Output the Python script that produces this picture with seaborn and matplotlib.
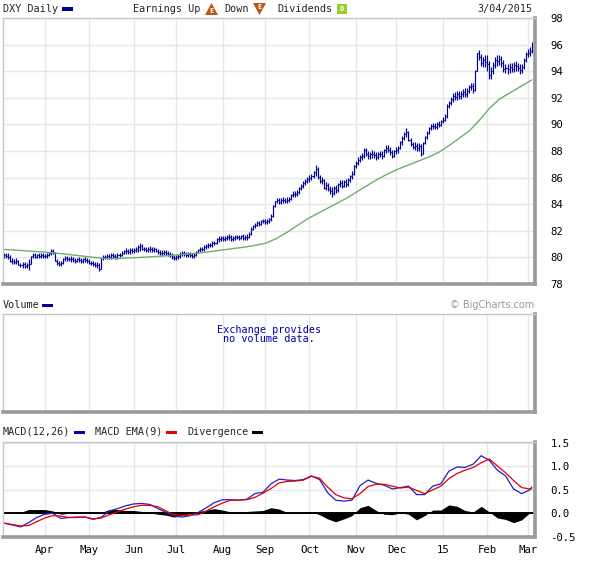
import matplotlib
matplotlib.use("Agg")
import matplotlib.pyplot as plt
import seaborn as sns
import pandas as pd
import numpy as np
from matplotlib.patches import Rectangle, Polygon

# --- DXY daily closes, one list per month ---
close_2014_03 = [80.15, 80.10, 80.05, 79.75, 79.70, 79.65, 79.75, 79.45, 79.40, 79.50,
                 79.35, 79.45, 79.50, 80.10, 80.20, 80.05, 80.15, 80.10, 80.20, 80.10]
close_2014_04 = [80.10, 80.20, 80.30, 80.50, 80.35, 79.75, 79.60, 79.50, 79.55, 79.85, 79.95,
                 79.90, 79.85, 79.90, 79.80, 79.75, 79.85, 79.80, 79.70, 79.85, 79.80, 79.75]
close_2014_05 = [79.60, 79.55, 79.50, 79.45, 79.40, 79.15, 79.95, 80.05, 80.00, 80.10, 80.05,
                 80.15, 80.10, 80.05, 80.15, 80.20, 80.35, 80.45, 80.50, 80.40, 80.55, 80.45]
close_2014_06 = [80.55, 80.60, 80.75, 80.85, 80.65, 80.60, 80.55, 80.65, 80.60, 80.55, 80.60,
                 80.50, 80.40, 80.35, 80.30, 80.40, 80.35, 80.25, 80.20, 80.05, 79.95]
close_2014_07 = [80.05, 80.10, 80.25, 80.30, 80.25, 80.20, 80.25, 80.15, 80.10, 80.20, 80.40, 80.55,
                 80.60, 80.65, 80.75, 80.85, 80.90, 80.95, 81.05, 81.10, 81.35, 81.40, 81.45]
close_2014_08 = [81.40, 81.45, 81.55, 81.50, 81.40, 81.45, 81.55, 81.50, 81.45, 81.60, 81.45,
                 81.50, 81.55, 81.75, 82.15, 82.35, 82.45, 82.60, 82.50, 82.70, 82.75]
close_2014_09 = [82.65, 82.75, 82.85, 83.15, 83.85, 84.25, 84.30, 84.20, 84.30, 84.35, 84.25,
                 84.35, 84.40, 84.70, 84.80, 84.75, 84.90, 85.20, 85.35, 85.60, 85.75, 85.90]
close_2014_10 = [86.00, 86.10, 86.40, 86.65, 86.05, 85.75, 85.85, 85.25, 85.45, 85.15, 85.00, 84.85,
                 85.20, 85.05, 85.50, 85.60, 85.40, 85.70, 85.55, 85.80, 86.10, 86.30, 86.85]
close_2014_11 = [87.10, 87.35, 87.55, 87.65, 88.05, 87.80, 87.60, 87.75, 87.80, 87.70,
                 87.55, 87.80, 87.75, 87.65, 88.05, 88.25, 88.10, 87.90, 87.65, 88.00]
close_2014_12 = [88.05, 88.20, 88.65, 88.95, 89.30, 89.45, 88.80, 88.55, 88.30, 88.40, 88.20, 88.35,
                 87.80, 88.60, 89.05, 89.35, 89.70, 89.85, 89.90, 89.80, 90.05, 89.95, 90.25]
close_2015_01 = [90.35, 90.65, 91.35, 91.60, 91.90, 92.15, 92.05, 92.25, 92.10, 92.30, 92.45,
                 92.30, 92.50, 92.80, 92.90, 92.60, 94.05, 95.35, 95.10, 94.60, 94.85, 94.70]
close_2015_02 = [94.55, 93.70, 94.05, 94.45, 94.85, 94.75, 94.90, 94.60, 94.20, 94.25,
                 94.15, 94.35, 94.20, 94.45, 94.40, 94.25, 94.10, 94.30, 94.85, 95.30]
close_2015_03 = [95.40, 95.55, 96.00]

# daily high-low range
rng_2014_03 = [0.40, 0.35, 0.45, 0.50, 0.40, 0.35, 0.45, 0.40, 0.35, 0.45,
               0.40, 0.35, 0.80, 0.40, 0.35, 0.40, 0.35, 0.40, 0.35, 0.40]
rng_2014_04 = [0.35, 0.40, 0.35, 0.50, 0.40, 0.65, 0.45, 0.40, 0.40, 0.45, 0.35,
               0.40, 0.35, 0.40, 0.35, 0.40, 0.35, 0.40, 0.35, 0.40, 0.35, 0.40]
rng_2014_05 = [0.40, 0.35, 0.40, 0.35, 0.45, 0.60, 0.85, 0.40, 0.35, 0.40, 0.35,
               0.40, 0.35, 0.35, 0.40, 0.35, 0.40, 0.35, 0.40, 0.35, 0.40, 0.35]
rng_2014_06 = [0.40, 0.35, 0.50, 0.60, 0.45, 0.35, 0.40, 0.35, 0.40, 0.35, 0.40,
               0.35, 0.40, 0.35, 0.40, 0.35, 0.40, 0.35, 0.40, 0.45, 0.40]
rng_2014_07 = [0.40, 0.35, 0.40, 0.35, 0.40, 0.35, 0.40, 0.35, 0.40, 0.35, 0.40, 0.35,
               0.40, 0.35, 0.40, 0.35, 0.40, 0.35, 0.40, 0.35, 0.45, 0.40, 0.35]
rng_2014_08 = [0.40, 0.35, 0.40, 0.45, 0.40, 0.35, 0.40, 0.35, 0.40, 0.35, 0.40,
               0.35, 0.40, 0.45, 0.60, 0.40, 0.35, 0.40, 0.35, 0.40, 0.35]
rng_2014_09 = [0.40, 0.35, 0.40, 0.50, 0.95, 0.45, 0.40, 0.45, 0.40, 0.45, 0.40,
               0.45, 0.40, 0.50, 0.45, 0.40, 0.45, 0.50, 0.45, 0.50, 0.45, 0.50]
rng_2014_10 = [0.50, 0.45, 0.55, 0.80, 0.95, 0.60, 0.55, 0.75, 0.60, 0.65, 0.60, 0.80,
               0.65, 0.60, 0.65, 0.55, 0.60, 0.55, 0.60, 0.55, 0.50, 0.55, 0.75]
rng_2014_11 = [0.55, 0.60, 0.50, 0.55, 0.70, 0.60, 0.55, 0.50, 0.55, 0.50,
               0.60, 0.55, 0.50, 0.55, 0.60, 0.55, 0.50, 0.55, 0.60, 0.55]
rng_2014_12 = [0.55, 0.50, 0.60, 0.65, 0.60, 0.65, 0.75, 0.60, 0.55, 0.60, 0.55, 0.60,
               0.85, 0.90, 0.60, 0.55, 0.50, 0.45, 0.50, 0.45, 0.50, 0.45, 0.50]
rng_2015_01 = [0.45, 0.50, 1.00, 0.55, 0.60, 0.65, 0.60, 0.65, 0.60, 0.65, 0.60,
               0.65, 0.70, 0.65, 0.60, 0.75, 1.60, 1.15, 0.80, 0.95, 0.75, 0.90]
rng_2015_02 = [1.15, 1.35, 0.95, 0.90, 0.85, 0.80, 0.75, 0.80, 0.95, 0.70,
               0.75, 0.80, 0.65, 0.70, 0.75, 0.65, 0.75, 0.70, 0.85, 0.80]
rng_2015_03 = [0.60, 0.65, 0.80]

# moving average (green line), sampled every 5 sessions
ma_day = list(range(0, 261, 5)) + [261]
ma_value = [80.60, 80.55, 80.50, 80.45, 80.40, 80.33, 80.25, 80.16, 80.08, 79.98,
            79.92, 79.91, 79.95, 79.98, 80.02, 80.07, 80.12, 80.18, 80.25, 80.32,
            80.40, 80.50, 80.60, 80.70, 80.80, 80.93, 81.10, 81.45, 81.90, 82.40,
            82.90, 83.30, 83.70, 84.10, 84.50, 84.98, 85.45, 85.90, 86.30, 86.65,
            86.95, 87.25, 87.55, 87.90, 88.40, 88.95, 89.50, 90.30, 91.20, 91.90,
            92.35, 92.80, 93.25, 93.35]

# MACD panel, sampled every 4 sessions
macd_day = list(range(0, 261, 4)) + [261]
macd_line = [-0.21, -0.25, -0.29, -0.20, -0.09, -0.02, 0.00, -0.11, -0.09, -0.08,
             -0.08, -0.13, -0.08, 0.05, 0.10, 0.16, 0.20, 0.21, 0.19, 0.10,
             0.02, -0.06, -0.08, -0.05, 0.02, 0.12, 0.23, 0.29, 0.29, 0.28,
             0.30, 0.42, 0.45, 0.63, 0.73, 0.71, 0.70, 0.72, 0.80, 0.72,
             0.44, 0.28, 0.26, 0.28, 0.59, 0.71, 0.64, 0.60, 0.52, 0.55,
             0.58, 0.40, 0.40, 0.58, 0.63, 0.90, 0.99, 0.98, 1.05, 1.23,
             1.13, 0.92, 0.80, 0.52, 0.42, 0.50, 0.56]
macd_ema = [-0.21, -0.24, -0.27, -0.26, -0.18, -0.10, -0.05, -0.06, -0.09, -0.09,
            -0.08, -0.12, -0.10, -0.03, 0.03, 0.09, 0.14, 0.17, 0.17, 0.14,
            0.05, -0.03, -0.04, -0.04, -0.03, 0.05, 0.14, 0.22, 0.28, 0.28,
            0.29, 0.34, 0.43, 0.53, 0.65, 0.68, 0.69, 0.71, 0.79, 0.75,
            0.56, 0.40, 0.33, 0.31, 0.42, 0.57, 0.62, 0.62, 0.58, 0.54,
            0.56, 0.49, 0.42, 0.50, 0.58, 0.74, 0.85, 0.92, 0.98, 1.08,
            1.16, 1.01, 0.87, 0.70, 0.55, 0.52, 0.52]
macd_div = [0.00, 0.00, 0.02, 0.08, 0.08, 0.08, 0.05, -0.02, 0.00, 0.00,
            0.01, 0.02, 0.02, 0.08, 0.08, 0.06, 0.06, 0.04, 0.01, -0.02,
            -0.04, -0.08, -0.04, -0.01, 0.04, 0.07, 0.10, 0.07, 0.03, 0.02,
            0.04, 0.05, 0.06, 0.12, 0.09, 0.02, 0.00, 0.03, 0.03, -0.03,
            -0.12, -0.18, -0.12, -0.05, 0.12, 0.17, 0.06, -0.02, -0.03, 0.01,
            -0.02, -0.14, -0.05, 0.07, 0.07, 0.18, 0.15, 0.06, 0.03, 0.15,
            0.03, -0.10, -0.13, -0.20, -0.14, 0.01, 0.02]

month_labels = ["Apr", "May", "Jun", "Jul", "Aug", "Sep", "Oct", "Nov", "Dec", "15", "Feb", "Mar"]
price_ticks = [78, 80, 82, 84, 86, 88, 90, 92, 94, 96, 98]
macd_ticks = [-0.5, 0.0, 0.5, 1.0, 1.5]

W, H = 614, 564
MONO = "DejaVu Sans Mono"
NAVY = "#000099"
GRID = "#e6e6e6"
FS = 7.3


def fx(px):
    return px / W


def fy(py):
    return 1 - py / H


def panel(fig, top, bottom, left=3, right=535):
    return fig.add_axes([fx(left), fy(bottom), (right - left) / W, (bottom - top) / H])


def style_panel(ax):
    ax.set_facecolor("white")
    for side in ("left", "top"):
        ax.spines[side].set_color("#c8c8c8")
        ax.spines[side].set_linewidth(1.0)
    for side in ("right", "bottom"):
        ax.spines[side].set_color("#9a9a9a")
        ax.spines[side].set_linewidth(2.6)
    ax.tick_params(length=0, labelsize=FS + 0.4, colors="black")
    ax.set_xlabel("")
    ax.set_ylabel("")


def swatch(fig, x0, x1, y0, y1, color):
    fig.add_artist(Rectangle((fx(x0), fy(y1)), (x1 - x0) / W, (y1 - y0) / H,
                             transform=fig.transFigure, color=color, lw=0))


sns.set_theme(style="white")
plt.rcParams["font.family"] = [MONO, "DejaVu Sans"]

closes = np.array(close_2014_03 + close_2014_04 + close_2014_05 + close_2014_06 + close_2014_07
                  + close_2014_08 + close_2014_09 + close_2014_10 + close_2014_11 + close_2014_12
                  + close_2015_01 + close_2015_02 + close_2015_03)
ranges = np.array(rng_2014_03 + rng_2014_04 + rng_2014_05 + rng_2014_06 + rng_2014_07
                  + rng_2014_08 + rng_2014_09 + rng_2014_10 + rng_2014_11 + rng_2014_12
                  + rng_2015_01 + rng_2015_02 + rng_2015_03)
dates = pd.bdate_range("2014-03-04", periods=len(closes))
opens = np.concatenate([[closes[0]], closes[:-1]])
mid = (opens + closes) / 2
highs = np.maximum(np.maximum(opens, closes), mid + ranges / 2)
lows = np.minimum(np.minimum(opens, closes), mid - ranges / 2)
day = np.arange(len(closes))

month_pos = [i for i in range(1, len(dates)) if dates[i].month != dates[i - 1].month]
xlim = (-0.65, 262.6)

fig = plt.figure(figsize=(W / 100, H / 100), dpi=100)
fig.patch.set_facecolor("white")

# ---------- price panel ----------
ax = panel(fig, 18, 284)
style_panel(ax)
ax.vlines(day, lows, highs, color=NAVY, lw=0.85)
ax.hlines(opens, day - 0.5, day, color=NAVY, lw=0.85)
ax.hlines(closes, day, day + 0.5, color=NAVY, lw=0.85)
sns.lineplot(x=ma_day, y=ma_value, ax=ax, color="#6fae6f", lw=1.0)
ax.set_xlim(*xlim)
ax.set_ylim(78, 98)
ax.set_xticks(month_pos)
ax.set_xticklabels([])
ax.set_yticks(price_ticks)
ax.yaxis.tick_right()
ax.tick_params(axis="y", pad=11)
ax.grid(True, color=GRID, lw=1.0)
ax.set_axisbelow(True)

# header
fig.text(fx(3), fy(9), "DXY Daily", fontsize=FS, va="center", ha="left")
swatch(fig, 62, 73, 7.5, 10.5, NAVY)
fig.text(fx(133), fy(9), "Earnings Up", fontsize=FS, va="center", ha="left")
fig.add_artist(Polygon([(fx(205), fy(15)), (fx(218), fy(15)), (fx(211.5), fy(3))],
                       closed=True, transform=fig.transFigure, color="#b8561f", lw=0))
fig.text(fx(211.5), fy(11), "E", fontsize=5, color="white", ha="center", va="center",
         fontweight="bold")
fig.text(fx(224), fy(9), "Down", fontsize=FS, va="center", ha="left")
fig.add_artist(Polygon([(fx(253), fy(3)), (fx(266), fy(3)), (fx(259.5), fy(15))],
                       closed=True, transform=fig.transFigure, color="#b8561f", lw=0))
fig.text(fx(259.5), fy(7), "E", fontsize=5, color="white", ha="center", va="center",
         fontweight="bold")
fig.text(fx(277), fy(9), "Dividends", fontsize=FS, va="center", ha="left")
swatch(fig, 337, 347, 4, 14, "#9ccc2c")
fig.text(fx(342), fy(9), "D", fontsize=5, color="white", ha="center", va="center",
         fontweight="bold")
fig.text(fx(533), fy(9), "3/04/2015", fontsize=FS, va="center", ha="right")

# ---------- volume panel ----------
axv = panel(fig, 314, 412)
style_panel(axv)
axv.set_xlim(*xlim)
axv.set_ylim(0, 1)
axv.set_xticks(month_pos)
axv.set_xticklabels([])
axv.set_yticks([])
axv.grid(True, axis="x", color=GRID, lw=1.0)
axv.text(0.5, 0.79, "Exchange provides\nno volume data.", transform=axv.transAxes,
         ha="center", va="center", fontsize=FS, color="#0000aa", linespacing=0.95)
fig.text(fx(3), fy(305), "Volume", fontsize=FS, va="center", ha="left")
swatch(fig, 42, 53, 303.5, 306.5, NAVY)
fig.text(fx(534), fy(305), "\u00a9 BigCharts.com", fontsize=7.0, va="center", ha="right",
         color="#999999", family="DejaVu Sans")

# ---------- MACD panel ----------
axm = panel(fig, 442, 537)
style_panel(axm)
axm.fill_between(macd_day, 0, macd_div, color="black", lw=0)
axm.axhline(0, color="black", lw=1.4)
sns.lineplot(x=macd_day, y=macd_line, ax=axm, color="#2020c0", lw=0.9)
sns.lineplot(x=macd_day, y=macd_ema, ax=axm, color="#e00000", lw=0.9)
axm.set_xlim(*xlim)
axm.set_ylim(-0.506, 1.523)
axm.set_xticks(month_pos)
axm.set_xticklabels(month_labels)
axm.set_yticks(macd_ticks)
axm.set_yticklabels(["-0.5", "0.0", "0.5", "1.0", "1.5"])
axm.yaxis.tick_right()
axm.tick_params(axis="y", pad=11)
axm.tick_params(axis="x", pad=6)
axm.grid(True, color=GRID, lw=1.0)
axm.set_axisbelow(True)

fig.text(fx(3), fy(432), "MACD(12,26)", fontsize=FS, va="center", ha="left")
swatch(fig, 74, 85, 430.5, 433.5, "#0000aa")
fig.text(fx(95), fy(432), "MACD EMA(9)", fontsize=FS, va="center", ha="left")
swatch(fig, 166, 177, 430.5, 433.5, "#e00000")
fig.text(fx(187), fy(432), "Divergence", fontsize=FS, va="center", ha="left")
swatch(fig, 252, 263, 430.5, 433.5, "black")

fig.savefig("out.png", dpi=100, facecolor="white")
